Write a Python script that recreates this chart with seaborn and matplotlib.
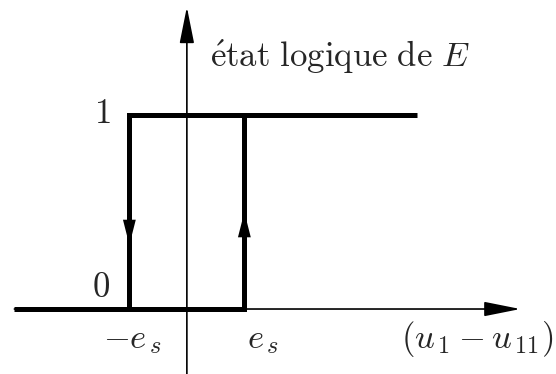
import matplotlib
matplotlib.use("Agg")
import matplotlib.pyplot as plt
import seaborn as sns
import pandas as pd

# Hysteresis comparator: logic state of E versus (u1 - u11)
es = 1.0
lower_x = [-3.0, es, es]      # rising branch: stays at 0 until +e_s
lower_y = [0, 0, 1]
upper_x = [4.0, -es, -es]     # falling branch: stays at 1 until -e_s
upper_y = [1, 1, 0]
level_labels = ["0", "1"]

sns.set_theme(style="white")
plt.rcParams["mathtext.fontset"] = "cm"

fig = plt.figure(figsize=(5.56, 3.74), dpi=100)
ax = fig.add_axes([0, 0, 1, 1])

lower = pd.DataFrame({"x": lower_x, "y": lower_y})
upper = pd.DataFrame({"x": upper_x, "y": upper_y})

# axes with arrow heads
axis_kw = dict(arrowstyle="-|>,head_length=1.6,head_width=0.32", color="black",
               lw=1.2, shrinkA=0, shrinkB=0, mutation_scale=14)
ax.annotate("", xy=(5.8, 0), xytext=(-3.0, 0), arrowprops=axis_kw)
ax.annotate("", xy=(0, 1.557), xytext=(0, -0.34), arrowprops=axis_kw)

sns.lineplot(data=lower, x="x", y="y", sort=False, estimator=None, color="black",
             lw=3.6, ax=ax, solid_joinstyle="miter", solid_capstyle="butt")
sns.lineplot(data=upper, x="x", y="y", sort=False, estimator=None, color="black",
             lw=3.6, ax=ax, solid_joinstyle="miter", solid_capstyle="butt")
ax.set_xlim(-3.25, 6.42)
ax.set_ylim(-0.335, 1.593)
ax.axis("off")

# direction arrows on the transitions
dir_kw = dict(arrowstyle="-|>,head_length=1.3,head_width=0.33", color="black",
              lw=0, shrinkA=0, shrinkB=0, mutation_scale=14)
ax.annotate("", xy=(-es, 0.33), xytext=(-es, 0.47), arrowprops=dir_kw)
ax.annotate("", xy=(es, 0.50), xytext=(es, 0.36), arrowprops=dir_kw)

fs = 25
ax.text(0.41, 1.25, r"$\mathrm{\acute{e}tat\ logique\ de}\ E$", fontsize=fs,
        ha="left", va="baseline")
ax.text(-1.47, 0.96, r"$\mathrm{%s}$" % level_labels[1], fontsize=fs, ha="center", va="baseline")
ax.text(-1.5, 0.06, r"$\mathrm{%s}$" % level_labels[0], fontsize=fs, ha="center", va="baseline")
ax.text(-1.46, -0.2, r"$-e_{\,s}$", fontsize=fs, ha="left", va="baseline")
ax.text(1.04, -0.2, r"$e_{\,s}$", fontsize=fs, ha="left", va="baseline")
ax.text(3.72, -0.2, r"$(u_{\,1} - u_{\,11})$", fontsize=fs, ha="left", va="baseline")

fig.savefig("out.png", dpi=100)
